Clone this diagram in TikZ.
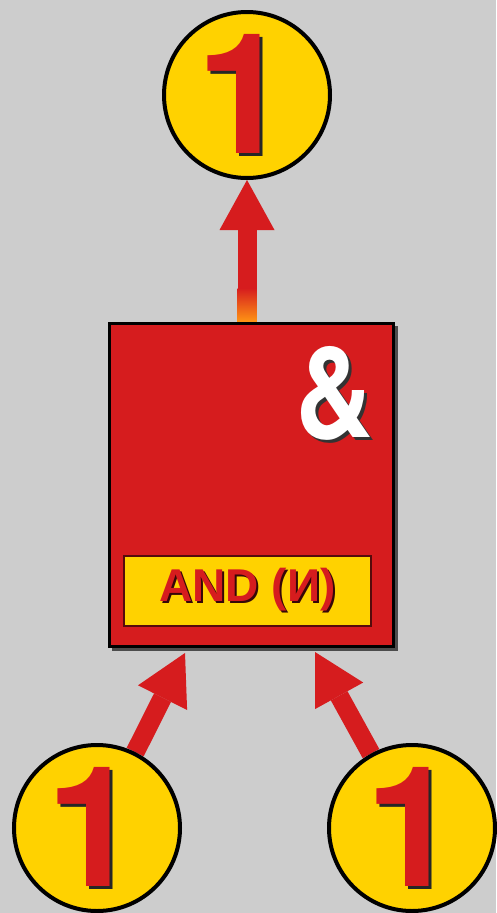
\documentclass[tikz,border=0pt]{standalone}
\usepackage{fontspec}
\setmainfont{Liberation Sans}[BoldFont={Liberation Sans Bold}]
\newfontfamily\hvfont{TeX Gyre Heros}
\usetikzlibrary{arrows.meta}
\definecolor{bgc}{RGB}{205,205,205}
\definecolor{gred}{RGB}{214,28,30}
\definecolor{gyel}{RGB}{255,210,0}
\definecolor{gorange}{RGB}{255,150,20}
\newcommand\shtxt[4]{\makebox[0pt][l]{\hspace*{#4}\raisebox{-#4}{\color{#2}#3}}{\color{#1}#3}}
\newcommand\bigglyph[3]{\scalebox{#1}[#2]{\hvfont\fontsize{40}{40}\selectfont\bfseries #3}}
\pgfdeclarelayer{back}
\pgfdeclarelayer{arrows}
\pgfsetlayers{back,arrows,main}
\tikzset{
  circ/.style={circle, draw=black, line width=4pt, fill=gyel, minimum size=166pt, inner sep=0pt},
  gatebox/.style={rectangle, draw=black, line width=3pt, fill=gred, minimum width=284pt, minimum height=323pt, inner sep=0pt},
  lbl/.style={rectangle, draw=black!60!gred, line width=2pt, fill=gyel, minimum width=247pt, minimum height=70pt, inner sep=0pt,
    font=\fontsize{46}{46}\selectfont\bfseries},
  ampt/.style={inner sep=0pt},
  arr/.style={gred, line width=19pt, -{Triangle[width=55pt,length=50pt,line width=0pt]}}
}
\begin{document}
\begin{tikzpicture}[x=1pt,y=-1pt]
\begin{pgfonlayer}{back}
\fill[bgc] (0,0) rectangle (496,913);
\end{pgfonlayer}
\useasboundingbox (0,0) rectangle (496,913);
\fill[black!70] (111.5,325.5) rectangle (397.5,650.5);
\node[gatebox] (gate) at (251.5,485) {};
\node[lbl] (lab) at (247.5,591) {\shtxt{gred}{black!75!gred}{AND (И)}{2pt}};
\node[ampt] (amp) at (334,395) {\shtxt{white}{black!80}{\bigglyph{2.7}{3.15}{\&}}{3pt}};
\node[circ] (out) at (247,95) {\hspace*{-8pt}\shtxt{gred}{black!85}{\bigglyph{4.2}{4.2}{1}}{3pt}};
\node[circ] (in1) at (97,828) {\hspace*{-8pt}\shtxt{gred}{black!85}{\bigglyph{4.2}{4.2}{1}}{3pt}};
\node[circ] (in2) at (412,828) {\shtxt{gred}{black!85}{\bigglyph{4.2}{4.2}{1}}{3pt}};
\coordinate (tipL) at (185,653);
\coordinate (tipR) at (315,652);
\begin{pgfonlayer}{arrows}
\draw[arr] (out.south |- gate.north) -- (out.south);
\shade[top color=gred, bottom color=gorange] ([xshift=-9.5pt,yshift=34pt]out.south |- gate.north) rectangle ([xshift=9.5pt]out.south |- gate.north);
\draw[arr] (in1) -- (tipL);
\draw[arr] (in2) -- (tipR);
\end{pgfonlayer}
\end{tikzpicture}
\end{document}
